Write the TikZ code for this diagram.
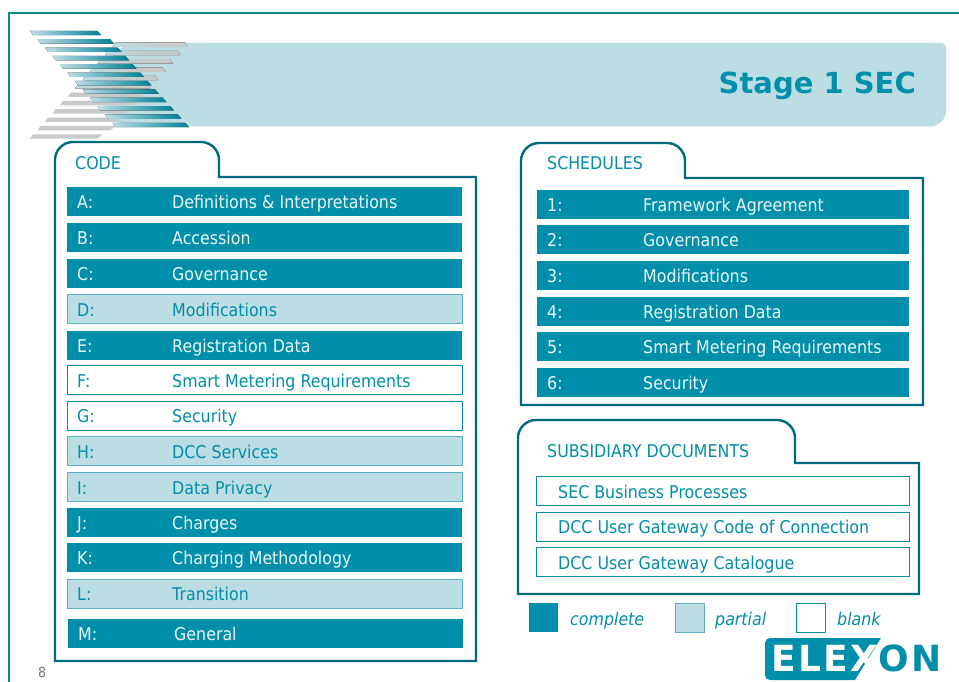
\documentclass[tikz,border=0pt]{standalone}
\usepackage{fontspec}
\setmainfont[FakeStretch=0.9]{DejaVu Sans}
\newfontfamily\titlefont{DejaVu Sans}
\newfontfamily\logofont[LetterSpace=7]{DejaVu Sans}
\definecolor{elex}{HTML}{008FAA}
\definecolor{elexlight}{HTML}{BCDDE4}
\definecolor{elexedge}{HTML}{5BB2C5}
\definecolor{paneledge}{HTML}{006B80}
\definecolor{frameline}{HTML}{0E8C82}
\definecolor{stripegray}{HTML}{C6CBCA}
\tikzset{
  x=1pt,y=-1pt,
  barbase/.style={anchor=north west,minimum height=29pt,inner sep=0pt,outer sep=0pt},
  complete/.style={barbase,fill=elex},
  partial/.style={barbase,fill=elexlight,draw=elexedge,line width=1pt},
  blank/.style={barbase,fill=white,draw=elex,line width=1pt},
  txt/.style={anchor=base west,inner sep=0pt,font=\fontsize{17.6}{20}\selectfont},
  lighttxt/.style={txt,text=white!92!elex},
  darktxt/.style={txt,text=elex},
  panel/.style={draw=paneledge,line width=2.4pt,fill=white,line join=miter},
  legendtxt/.style={anchor=base west,inner sep=0pt,text=elex,font=\fontsize{17.6}{20}\selectfont\itshape},
}
% name, style, x, top y, width, label, label x, text, text x  -- style of text follows the bar
\newcommand{\rowbar}[9]{%
  \node[#2,minimum width=#5pt] (#1) at (#3,#4) {};
  \ifnum\pdfstrcmp{#2}{complete}=0\def\rowtxt{lighttxt}\else\def\rowtxt{darktxt}\fi
  \node[\rowtxt] (#1lab) at (#7,#4+21.5) {#6};
  \node[\rowtxt] (#1txt) at (#9,#4+21.5) {#8};
}
\begin{document}
\begin{tikzpicture}
\useasboundingbox (0,0) rectangle (959,682);
\fill[white] (0,0) rectangle (959,682);
% outer frame
\draw[frameline,line width=1.6pt] (9,682) -- (9,13) -- (959,13);
% header band
\fill[elexlight,rounded corners=4pt] (127,43) -- (946,43) -- (946,105) [rounded corners=16pt] -- (946,126.5) [rounded corners=4pt] -- (122,126.5) -- (84,80) -- cycle;
% gray stripes
\foreach \i in {0,...,11}{
  \pgfmathsetmacro{\yy}{136.5-8.35*\i}
  \pgfmathsetmacro{\xl}{30+7.5*\i}
  \pgfmathsetmacro{\xr}{\i==0 ? 100 : 105.5+7.5*\i}
  \ifnum\i>5
    \fill[left color=elexlight,right color=stripegray,middle color=stripegray] (\xl+3,\yy-2.2) -- (\xr-3,\yy-2.2) -- (\xr,\yy+2.2) -- (\xl,\yy+2.2) -- cycle;
  \else
    \fill[stripegray] (\xl+3,\yy+2.2) -- (\xl,\yy+2.2) -- (\xl+3,\yy-2.2) -- (\xr+3,\yy-2.2) -- (\xr-3,\yy+2.2) -- cycle;
  \fi
}
% blue stripes
\foreach \i in {0,...,11}{
  \pgfmathsetmacro{\yy}{33+8.36*\i}
  \pgfmathsetmacro{\xl}{30+7.5*\i}
  \pgfmathsetmacro{\xr}{\i==0 ? 100 : 105.5+7.5*\i}
  \fill[left color=elexlight,right color=elex!90!black] (\xl,\yy-2.2) -- (\xr-3,\yy-2.2) -- (\xr+1,\yy+2.2) -- (\xl+3,\yy+2.2) -- cycle;
}
\node[anchor=base east,inner sep=0pt,text=elex,font=\titlefont\fontsize{29}{32}\selectfont\bfseries] (title) at (916,94) {Stage 1 SEC};
% panels
\draw[panel] (55,177) [rounded corners=18pt] -- (55,142) -- (219,142) [sharp corners] -- (219,177) -- (476,177) -- (476,661) -- (55,661) -- cycle;
\draw[panel] (521,178) [rounded corners=18pt] -- (521,143) -- (685,143) [sharp corners] -- (685,178) -- (923,178) -- (923,405) -- (521,405) -- cycle;
\draw[panel] (518,463) [rounded corners=18pt] -- (518,420) -- (795,420) [sharp corners] -- (795,463) -- (919,463) -- (919,594) -- (518,594) -- cycle;
\node[darktxt] (codehead) at (75,169.5) {CODE};
\node[darktxt] (schedhead) at (547,170) {SCHEDULES};
\node[darktxt] (subshead) at (547,457) {SUBSIDIARY DOCUMENTS};
% code rows
\rowbar{a}{complete}{67}{187}{395}{A:}{77}{Definitions \& Interpretations}{172}
\rowbar{b}{complete}{67}{223}{395}{B:}{77}{Accession}{172}
\rowbar{c}{complete}{67}{259}{395}{C:}{77}{Governance}{172}
\rowbar{d}{partial}{67}{294.5}{395}{D:}{77}{Modifications}{172}
\rowbar{e}{complete}{67}{331}{395}{E:}{77}{Registration Data}{172}
\rowbar{f}{blank}{67}{365.5}{395}{F:}{77}{Smart Metering Requirements}{172}
\rowbar{g}{blank}{67}{401}{395}{G:}{77}{Security}{172}
\rowbar{h}{partial}{67}{436.5}{395}{H:}{77}{DCC Services}{172}
\rowbar{i}{partial}{67}{472.5}{395}{I:}{77}{Data Privacy}{172}
\rowbar{j}{complete}{67}{508}{395}{J:}{77}{Charges}{172}
\rowbar{k}{complete}{67}{543}{395}{K:}{77}{Charging Methodology}{172}
\rowbar{l}{partial}{67}{579}{395}{L:}{77}{Transition}{172}
\rowbar{m}{complete}{68}{619}{395}{M:}{78}{General}{174}
% schedule rows
\rowbar{s1}{complete}{537}{190}{372}{1:}{547}{Framework Agreement}{643}
\rowbar{s2}{complete}{537}{225}{372}{2:}{547}{Governance}{643}
\rowbar{s3}{complete}{537}{261}{372}{3:}{547}{Modifications}{643}
\rowbar{s4}{complete}{537}{297}{372}{4:}{547}{Registration Data}{643}
\rowbar{s5}{complete}{537}{332}{372}{5:}{547}{Smart Metering Requirements}{643}
\rowbar{s6}{complete}{537}{368}{372}{6:}{547}{Security}{643}
% subsidiary rows
\node[blank,minimum width=373pt] (d1) at (536,476.5) {};
\node[darktxt] (d1txt) at (558,498) {SEC Business Processes};
\node[blank,minimum width=373pt] (d2) at (536,512) {};
\node[darktxt] (d2txt) at (558,533) {DCC User Gateway Code of Connection};
\node[blank,minimum width=373pt] (d3) at (536,547.5) {};
\node[darktxt] (d3txt) at (558,569) {DCC User Gateway Catalogue};
% legend
\node[complete,minimum width=29pt] (lg1) at (529,603) {};
\node[legendtxt] (lg1txt) at (570,625) {complete};
\node[partial,minimum width=29pt] (lg2) at (675,603.5) {};
\node[legendtxt] (lg2txt) at (715,625) {partial};
\node[blank,minimum width=29pt] (lg3) at (796,603.5) {};
\node[legendtxt] (lg3txt) at (837,625) {blank};
% page number
\node[anchor=base west,inner sep=0pt,text=black!55,font=\fontsize{14}{16}\selectfont] (pagenum) at (38,677) {8};
% logo
\fill[elex,rounded corners=5pt] (765,638) [sharp corners] -- (881,638) -- (855,680) [rounded corners=5pt] -- (765,680) -- cycle;
\node[anchor=base west,inner sep=0pt,font=\logofont\fontsize{36}{40}\selectfont\bfseries] (logo) at (771,671) {\textcolor{white}{ELEX}\textcolor{elex}{ON}};
\end{tikzpicture}
\end{document}
